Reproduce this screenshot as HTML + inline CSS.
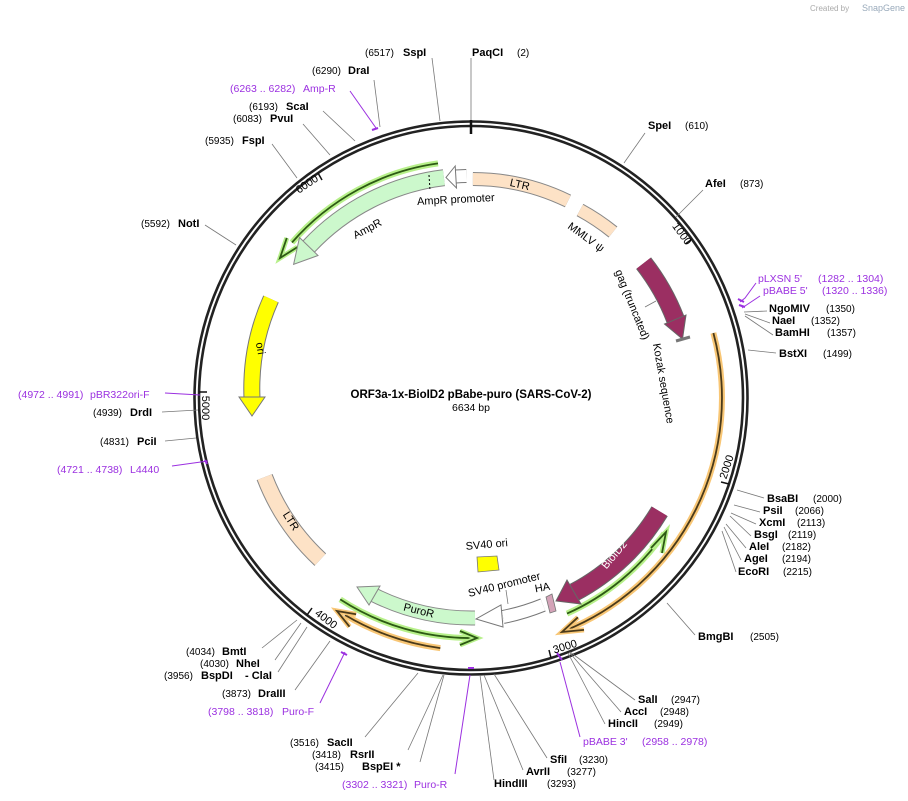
<!DOCTYPE html>
<html><head><meta charset="utf-8"><style>
html,body{margin:0;padding:0;background:#fff;}
svg{display:block;font-family:"Liberation Sans","DejaVu Sans",sans-serif;}
.n{font-size:11px;font-weight:bold;fill:#000;}
.c{font-size:10px;fill:#000;}
.p{font-size:10.5px;fill:#9b30e0;}
.f{font-size:11px;fill:#000;}
.l{stroke:#777;stroke-width:0.8;fill:none;}
.lp{stroke:#9b30e0;stroke-width:1;fill:none;}
</style></head><body>
<svg width="908" height="801" viewBox="0 0 908 801" xmlns="http://www.w3.org/2000/svg">
<rect width="908" height="801" fill="#fff"/>
<text x="810" y="11" font-size="8" fill="#aaa">Created by</text><text x="862" y="11" font-size="9" fill="#9ab">SnapGene</text>

<!-- ring -->
<circle cx="471" cy="398" r="276.5" fill="none" stroke="#222" stroke-width="2.6"/>
<circle cx="471" cy="398" r="272" fill="none" stroke="#222" stroke-width="2.6"/>
<line x1="471" y1="120" x2="471" y2="134" stroke="#111" stroke-width="2.5"/>

<!-- ticks -->
<g stroke="#111" stroke-width="1.5">
<line x1="691.9" y1="239.2" x2="685.4" y2="243.8"/>
<line x1="729" y1="484" x2="721" y2="482"/>
<line x1="551" y1="658" x2="549" y2="650"/>
<line x1="307" y1="615" x2="312" y2="608"/>
<line x1="199" y1="392" x2="207" y2="392"/>
<line x1="318" y1="173" x2="322" y2="180"/>
</g>
<g class="f" font-size="10.5">
<text x="679" y="236" text-anchor="middle" transform="rotate(54 679 236)">1000</text>
<text x="730" y="468" text-anchor="middle" transform="rotate(-72 730 468)">2000</text>
<text x="566" y="650" text-anchor="middle" transform="rotate(-17 566 650)">3000</text>
<text x="324" y="622" text-anchor="middle" transform="rotate(37 324 622)">4000</text>
<text x="202" y="408" text-anchor="middle" transform="rotate(90 202 408)">5000</text>
<text x="309" y="187" text-anchor="middle" transform="rotate(-34 309 187)">6000</text>
</g>

<!-- LTR top -->
<path d="M472.9 179 A219 219 0 0 1 568 201" stroke="#888" stroke-width="14" fill="none"/>
<path d="M472.9 179 A219 219 0 0 1 568 201" stroke="#fde2c6" stroke-width="12" fill="none"/>
<text class="f" x="519" y="188" text-anchor="middle" transform="rotate(13 519 188)">LTR</text>
<!-- MMLV psi -->
<path d="M580 210 A219 219 0 0 1 613 232" stroke="#888" stroke-width="14" fill="none"/>
<path d="M580 210 A219 219 0 0 1 613 232" stroke="#fde2c6" stroke-width="12" fill="none"/>
<text class="f" x="584" y="240" text-anchor="middle" transform="rotate(36 584 240)">MMLV ψ</text>

<!-- AmpR promoter -->
<path d="M466.4 176 A222 222 0 0 0 455.5 176.5" stroke="#777" stroke-width="14" fill="none"/>
<path d="M466.4 176 A222 222 0 0 0 455.5 176.5" stroke="#fff" stroke-width="12" fill="none"/>
<polygon points="455.2,166 446,177.5 456.5,188" fill="#fff" stroke="#777" stroke-width="1"/>
<text class="f" x="456" y="203" text-anchor="middle" transform="rotate(-3 456 203)">AmpR promoter</text>

<!-- AmpR green outer thin -->
<path d="M438 163.4 A237 237 0 0 0 292 242.5" stroke="#b7f08a" stroke-width="6" fill="none"/>
<path d="M438 163.4 A237 237 0 0 0 292 242.5" stroke="#2d5a14" stroke-width="1.8" fill="none"/>
<polyline points="286.8,237.9 280,258 297.4,247.1" fill="none" stroke="#b7f08a" stroke-width="5"/>
<polyline points="286.8,237.9 280,258 297.4,247.1" fill="none" stroke="#2d5a14" stroke-width="1.8"/>
<!-- AmpR -->
<path d="M443.9 177.7 A222 222 0 0 0 308.7 246.6" stroke="#888" stroke-width="17" fill="none"/>
<path d="M443.9 177.7 A222 222 0 0 0 308.7 246.6" stroke="#ccf8cc" stroke-width="15" fill="none"/>
<polygon points="299.5,237.5 293.6,264.4 318,255.5" fill="#ccf8cc" stroke="#888" stroke-width="1"/>
<line x1="429" y1="175" x2="430" y2="190" stroke="#000" stroke-width="1" stroke-dasharray="2,2"/>
<text class="f" x="369" y="232" text-anchor="middle" transform="rotate(-28 369 232)">AmpR</text>

<!-- ori -->
<path d="M271 299 A219 219 0 0 0 252 398" stroke="#777" stroke-width="17" fill="none"/>
<path d="M271 299 A219 219 0 0 0 252 398" stroke="#ffff00" stroke-width="15" fill="none"/>
<polygon points="239,397 252,416 265,397" fill="#ffff00" stroke="#777" stroke-width="1"/>
<text class="f" x="257" y="349" text-anchor="middle" transform="rotate(80 257 349)">ori</text>

<!-- LTR lower left -->
<path d="M264.6 477.1 A221 221 0 0 0 320.3 559.6" stroke="#888" stroke-width="17" fill="none"/>
<path d="M264.6 477.1 A221 221 0 0 0 320.3 559.6" stroke="#fde2c6" stroke-width="15" fill="none"/>
<text class="f" x="288" y="523" text-anchor="middle" transform="rotate(57 288 523)">LTR</text>

<!-- gag -->
<path d="M643.6 263.2 A219 219 0 0 1 675.5 319.5" stroke="#666" stroke-width="19" fill="none"/>
<path d="M643.6 263.2 A219 219 0 0 1 675.5 319.5" stroke="#9b2f62" stroke-width="17" fill="none"/>
<polygon points="686,315 682.5,339 664.5,324" fill="#9b2f62" stroke="#666" stroke-width="1"/>
<line x1="676" y1="341" x2="690" y2="337" stroke="#777" stroke-width="3"/>
<line x1="656" y1="301" x2="645" y2="307" class="l"/>
<text class="f" x="629" y="306" text-anchor="middle" transform="rotate(68 629 306)">gag (truncated)</text>
<text class="f" x="660" y="384" text-anchor="middle" transform="rotate(80 660 384)">Kozak sequence</text>

<!-- orange long -->
<path d="M713.4 333 A251 251 0 0 1 565 630.7" stroke="#f8c675" stroke-width="6" fill="none"/>
<path d="M713.4 333 A251 251 0 0 1 565 630.7" stroke="#4a3a1a" stroke-width="1.8" fill="none"/>
<polyline points="584,629.9 562,632 577.9,617.3" fill="none" stroke="#f8c675" stroke-width="5"/>
<polyline points="584,629.9 562,632 577.9,617.3" fill="none" stroke="#4a3a1a" stroke-width="1.8"/>

<!-- green thin right -->
<path d="M567 613.6 A236 236 0 0 0 664.3 533.4" stroke="#b7f08a" stroke-width="6" fill="none"/>
<path d="M567 613.6 A236 236 0 0 0 664.3 533.4" stroke="#2d5a14" stroke-width="1.8" fill="none"/>
<polyline points="651,548 666,532 662,553" fill="none" stroke="#b7f08a" stroke-width="5"/>
<polyline points="651,548 666,532 662,553" fill="none" stroke="#2d5a14" stroke-width="1.8"/>

<!-- BioID2 -->
<path d="M659.6 511.3 A220 220 0 0 1 574.3 592.3" stroke="#666" stroke-width="19" fill="none"/>
<path d="M659.6 511.3 A220 220 0 0 1 574.3 592.3" stroke="#9b2f62" stroke-width="17" fill="none"/>
<polygon points="581,604 556,601 567,580" fill="#9b2f62" stroke="#666" stroke-width="1"/>
<text x="617" y="557" text-anchor="middle" font-size="11" fill="#fff" transform="rotate(-50 617 557)">BioID2</text>

<!-- HA -->
<polygon points="546,597 552,594 556,611 550,613" fill="#d4a3b8" stroke="#777" stroke-width="0.8"/>
<text class="f" x="543" y="591" text-anchor="middle" transform="rotate(-10 543 591)">HA</text>

<!-- SV40 promoter -->
<path d="M543 605 A221 221 0 0 1 503 617" stroke="#777" stroke-width="14" fill="none"/>
<path d="M543 605 A221 221 0 0 1 503 617" stroke="#fff" stroke-width="12" fill="none"/>
<polygon points="503,627 476,619 501,605" fill="#fff" stroke="#777" stroke-width="1"/>
<line x1="506" y1="590" x2="508" y2="604" class="l"/>
<text class="f" x="505" y="588" text-anchor="middle" transform="rotate(-14 505 588)">SV40 promoter</text>

<!-- SV40 ori -->
<polygon points="477,557 497,556 499,570 478,572" fill="#ffff00" stroke="#777" stroke-width="0.8"/>
<text class="f" x="487" y="548" text-anchor="middle" transform="rotate(-5 487 548)">SV40 ori</text>

<!-- PuroR -->
<path d="M475 618 A220 220 0 0 1 374 595" stroke="#888" stroke-width="15" fill="none"/>
<path d="M475 618 A220 220 0 0 1 374 595" stroke="#ccf8cc" stroke-width="13" fill="none"/>
<polygon points="369,605 357,587 380,586" fill="#ccf8cc" stroke="#888" stroke-width="1"/>
<text class="f" x="418" y="614" text-anchor="middle" transform="rotate(14 418 614)">PuroR</text>

<!-- green thin bottom -->
<path d="M340.2 599.4 A240 240 0 0 0 475 638" stroke="#b7f08a" stroke-width="6" fill="none"/>
<path d="M340.2 599.4 A240 240 0 0 0 475 638" stroke="#2d5a14" stroke-width="1.8" fill="none"/>
<polyline points="460,645 477,638 460,631" fill="none" stroke="#b7f08a" stroke-width="5"/>
<polyline points="460,645 477,638 460,631" fill="none" stroke="#2d5a14" stroke-width="1.8"/>

<!-- orange thin bottom -->
<path d="M440.3 648.1 A252 252 0 0 1 345 615" stroke="#f8c675" stroke-width="6" fill="none"/>
<path d="M440.3 648.1 A252 252 0 0 1 345 615" stroke="#4a3a1a" stroke-width="1.8" fill="none"/>
<polyline points="349.5,626.7 337,611 356.1,614.3" fill="none" stroke="#f8c675" stroke-width="5"/>
<polyline points="349.5,626.7 337,611 356.1,614.3" fill="none" stroke="#4a3a1a" stroke-width="1.8"/>

<!-- center title -->
<text x="471" y="398" text-anchor="middle" font-size="11.5" font-weight="bold">ORF3a-1x-BioID2 pBabe-puro (SARS-CoV-2)</text>
<text x="471" y="411" text-anchor="middle" font-size="10.5">6634 bp</text>

<!-- label lines -->
<g class="l">
<line x1="440" y1="121" x2="432" y2="58"/>
<line x1="471" y1="120" x2="471" y2="58"/>
<line x1="624" y1="163" x2="645" y2="133"/>
<line x1="676" y1="217" x2="703" y2="190"/>
<line x1="744" y1="312" x2="767" y2="311"/>
<line x1="745" y1="314" x2="770" y2="323"/>
<line x1="745" y1="316" x2="773" y2="335"/>
<line x1="748" y1="350" x2="776" y2="353"/>
<line x1="737" y1="490" x2="764" y2="498"/>
<line x1="734" y1="505" x2="760" y2="512"/>
<line x1="731" y1="513" x2="756" y2="524"/>
<line x1="730" y1="516" x2="751" y2="536"/>
<line x1="726" y1="524" x2="746" y2="548"/>
<line x1="724" y1="527" x2="741" y2="560"/>
<line x1="722" y1="531" x2="736" y2="572"/>
<line x1="667" y1="603" x2="695" y2="635"/>
<line x1="570" y1="652" x2="635" y2="700"/>
<line x1="569" y1="652" x2="621" y2="712"/>
<line x1="568" y1="653" x2="605" y2="724"/>
<line x1="494" y1="674" x2="547" y2="758"/>
<line x1="484" y1="675" x2="523" y2="770"/>
<line x1="480" y1="675" x2="494" y2="780"/>
<line x1="418" y1="673" x2="365" y2="737"/>
<line x1="443" y1="675" x2="408" y2="750"/>
<line x1="444" y1="675" x2="420" y2="762"/>
<line x1="330" y1="641" x2="295" y2="690"/>
<line x1="307" y1="627" x2="278" y2="672"/>
<line x1="301" y1="623" x2="275" y2="660"/>
<line x1="297" y1="620" x2="262" y2="648"/>
<line x1="196" y1="438" x2="165" y2="441"/>
<line x1="198" y1="410" x2="162" y2="412"/>
<line x1="236" y1="245" x2="205" y2="225"/>
<line x1="297" y1="178" x2="272" y2="144"/>
<line x1="330" y1="155" x2="303" y2="124"/>
<line x1="355" y1="141" x2="323" y2="111"/>
<line x1="380" y1="127" x2="374" y2="80"/>
</g>
<g class="lp">
<polyline points="740,302 745,298 756,283"/>
<polyline points="742,308 748,304 760,296"/>
<polyline points="560,662 580,737"/>
<polyline points="470,675 455,774"/>
<polyline points="345,652 320,703"/>
<polyline points="208,461 172,466"/>
<polyline points="200,395 165,393"/>
<polyline points="376,128 350,91"/>
</g>
<g stroke="#9b30e0" stroke-width="2">
<line x1="738" y1="299" x2="744" y2="302"/>
<line x1="739" y1="305" x2="745" y2="307"/>
<line x1="557" y1="653" x2="562" y2="660"/>
<line x1="468" y1="668" x2="474" y2="668"/>
<line x1="341" y1="652" x2="347" y2="655"/>
<line x1="205" y1="460" x2="207" y2="464"/>
<line x1="372" y1="130" x2="378" y2="128"/>
</g>

<!-- labels -->
<text class="c" x="365" y="56">(6517)</text><text class="n" x="403" y="56">SspI</text>
<text class="n" x="472" y="56">PaqCI</text><text class="c" x="517" y="56">(2)</text>
<text class="n" x="648" y="129">SpeI</text><text class="c" x="685" y="129">(610)</text>
<text class="n" x="705" y="187">AfeI</text><text class="c" x="740" y="187">(873)</text>
<text class="p" x="758" y="282">pLXSN 5'</text><text class="p" x="818" y="282" font-size="9.5">(1282 .. 1304)</text>
<text class="p" x="763" y="294">pBABE 5'</text><text class="p" x="822" y="294" font-size="9.5">(1320 .. 1336)</text>
<text class="n" x="769" y="312">NgoMIV</text><text class="c" x="826" y="312">(1350)</text>
<text class="n" x="772" y="324">NaeI</text><text class="c" x="811" y="324">(1352)</text>
<text class="n" x="775" y="336">BamHI</text><text class="c" x="827" y="336">(1357)</text>
<text class="n" x="779" y="357">BstXI</text><text class="c" x="823" y="357">(1499)</text>
<text class="n" x="767" y="502">BsaBI</text><text class="c" x="813" y="502">(2000)</text>
<text class="n" x="763" y="514">PsiI</text><text class="c" x="795" y="514">(2066)</text>
<text class="n" x="759" y="526">XcmI</text><text class="c" x="797" y="526">(2113)</text>
<text class="n" x="754" y="538">BsgI</text><text class="c" x="788" y="538">(2119)</text>
<text class="n" x="749" y="550">AleI</text><text class="c" x="782" y="550">(2182)</text>
<text class="n" x="744" y="562">AgeI</text><text class="c" x="782" y="562">(2194)</text>
<text class="n" x="738" y="575">EcoRI</text><text class="c" x="783" y="575">(2215)</text>
<text class="n" x="698" y="640">BmgBI</text><text class="c" x="750" y="640">(2505)</text>
<text class="n" x="638" y="703">SalI</text><text class="c" x="671" y="703">(2947)</text>
<text class="n" x="624" y="715">AccI</text><text class="c" x="660" y="715">(2948)</text>
<text class="n" x="608" y="727">HincII</text><text class="c" x="654" y="727">(2949)</text>
<text class="p" x="583" y="745">pBABE 3'</text><text class="p" x="642" y="745" font-size="9.5">(2958 .. 2978)</text>
<text class="n" x="550" y="763">SfiI</text><text class="c" x="579" y="763">(3230)</text>
<text class="n" x="526" y="775">AvrII</text><text class="c" x="567" y="775">(3277)</text>
<text class="n" x="494" y="787">HindIII</text><text class="c" x="547" y="787">(3293)</text>
<text class="p" x="342" y="788" font-size="9.5">(3302 .. 3321)</text><text class="p" x="414" y="788">Puro-R</text>
<text class="c" x="290" y="746">(3516)</text><text class="n" x="327" y="746">SacII</text>
<text class="c" x="312" y="758">(3418)</text><text class="n" x="350" y="758">RsrII</text>
<text class="c" x="315" y="770">(3415)</text><text class="n" x="362" y="770">BspEI *</text>
<text class="p" x="208" y="715" font-size="9.5">(3798 .. 3818)</text><text class="p" x="282" y="715">Puro-F</text>
<text class="c" x="222" y="697">(3873)</text><text class="n" x="258" y="697">DraIII</text>
<text class="c" x="164" y="679">(3956)</text><text class="n" x="201" y="679">BspDI</text><text class="n" x="245" y="679">- ClaI</text>
<text class="c" x="200" y="667">(4030)</text><text class="n" x="236" y="667">NheI</text>
<text class="c" x="186" y="655">(4034)</text><text class="n" x="222" y="655">BmtI</text>
<text class="p" x="57" y="473" font-size="9.5">(4721 .. 4738)</text><text class="p" x="130" y="473">L4440</text>
<text class="c" x="100" y="445">(4831)</text><text class="n" x="137" y="445">PciI</text>
<text class="c" x="93" y="416">(4939)</text><text class="n" x="130" y="416">DrdI</text>
<text class="p" x="18" y="398" font-size="9.5">(4972 .. 4991)</text><text class="p" x="90" y="398">pBR322ori-F</text>
<text class="c" x="141" y="227">(5592)</text><text class="n" x="178" y="227">NotI</text>
<text class="c" x="205" y="144">(5935)</text><text class="n" x="242" y="144">FspI</text>
<text class="c" x="233" y="122">(6083)</text><text class="n" x="270" y="122">PvuI</text>
<text class="c" x="249" y="110">(6193)</text><text class="n" x="286" y="110">ScaI</text>
<text class="p" x="230" y="92" font-size="9.5">(6263 .. 6282)</text><text class="p" x="303" y="92">Amp-R</text>
<text class="c" x="312" y="74">(6290)</text><text class="n" x="348" y="74">DraI</text>
</svg>
</body></html>
